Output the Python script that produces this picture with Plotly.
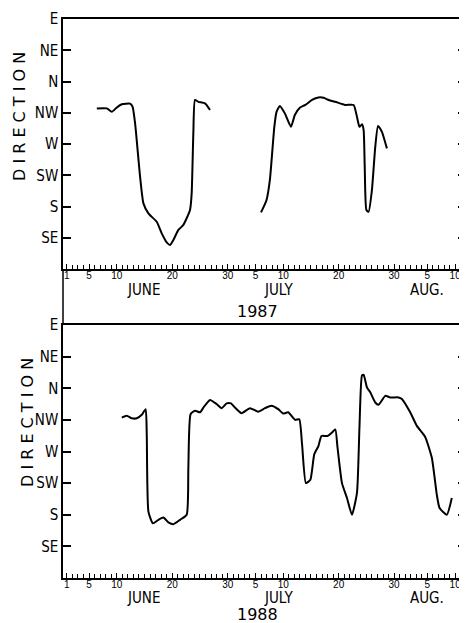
import plotly.graph_objects as go

# ---------------- data ----------------
# day index: June 1 = 1, July 1 = 31, Aug 1 = 62
# direction scale: SE=1, S=2, SW=3, W=4, NW=5, N=6, NE=7, E=8
dir_vals = [1, 2, 3, 4, 5, 6, 7, 8]
dir_labels = ["SE", "S", "SW", "W", "NW", "N", "NE", "E"]

day_ticks = [1, 5, 10, 20, 30, 35, 40, 50, 60, 66, 71]
day_labels = ["1", "5", "10", "20", "30", "5", "10", "20", "30", "5", "10"]
months = ["JUNE", "JULY", "AUG."]
month_days = [14.9, 39.1, 66.0]

d87a = [6.4, 8.2, 9.1, 10.0, 10.9, 12.4, 12.85, 13.3, 13.7, 14.2, 14.8, 15.7, 17.2,
        18.1, 19.0, 19.6, 20.2, 21.1, 22.0, 23.2, 23.5, 23.8, 24.1, 24.7, 25.9, 26.8]
v87a = [5.14, 5.14, 5.03, 5.17, 5.27, 5.29, 5.19, 4.66, 3.91, 2.95, 2.10, 1.78, 1.51,
        1.14, 0.85, 0.77, 0.93, 1.25, 1.41, 1.89, 2.42, 4.34, 5.41, 5.35, 5.30, 5.09]

d87b = [36.0, 37.0, 37.6, 38.1, 38.4, 38.8, 39.4, 40.3, 41.4, 42.1, 43.0, 44.0, 45.2,
        46.35, 47.3, 48.2, 49.4, 51.2, 52.7, 53.3, 53.75, 54.2, 54.5, 54.7, 55.0, 55.4,
        56.0, 56.6, 57.1, 57.8, 58.7]
v87b = [1.81, 2.21, 2.85, 3.91, 4.55, 5.03, 5.22, 4.98, 4.55, 4.93, 5.16, 5.25, 5.41,
        5.49, 5.48, 5.41, 5.35, 5.25, 5.25, 4.87, 4.55, 4.63, 4.45, 3.27, 1.89, 1.83,
        2.53, 3.91, 4.58, 4.39, 3.86]

d88 = [10.9, 11.8, 12.7, 13.6, 14.5, 15.2, 15.4, 15.7, 16.5, 17.5, 18.4, 19.3, 20.2,
       21.4, 22.6, 22.9, 23.3, 24.1, 25.0, 25.7, 26.8, 28.0, 28.9, 29.8, 30.6, 31.3,
       32.5, 34.0, 35.5, 36.7, 37.9, 39.1, 40.0, 40.9, 42.15, 42.9, 43.4, 44.1, 44.9,
       45.6, 46.35, 46.9, 48.0, 48.8, 49.4, 49.8, 50.6, 51.5, 52.4, 53.3, 53.75, 54.2,
       54.5, 55.1, 55.7, 56.6, 57.2, 58.4, 59.3, 60.8, 61.4, 62.9, 64.1, 65.6, 66.8,
       67.7, 68.2, 69.5, 70.4]
v88 = [5.07, 5.13, 5.05, 5.05, 5.16, 5.34, 4.54, 2.10, 1.73, 1.84, 1.91, 1.76, 1.70,
       1.84, 2.00, 3.48, 5.18, 5.29, 5.24, 5.41, 5.63, 5.50, 5.37, 5.52, 5.52, 5.39,
       5.21, 5.37, 5.26, 5.37, 5.45, 5.34, 5.20, 5.24, 5.00, 5.02, 4.23, 3.00, 3.11,
       3.91, 4.17, 4.49, 4.49, 4.60, 4.70, 4.12, 3.00, 2.53, 2.00, 2.69, 4.76, 6.40,
       6.43, 6.03, 5.87, 5.55, 5.48, 5.76, 5.71, 5.71, 5.66, 5.24, 4.81, 4.46, 3.80,
       2.63, 2.21, 2.00, 2.53]

years = ["1987", "1988"]

# ---------------- figure ----------------
OFF = 8  # page body margin offset
W, H = 467 - OFF, 623 - OFF
T = 19 - OFF
PLOT_BOTTOM = 578 - OFF
B = H - PLOT_BOTTOM
L = 63 - OFF
R = W - (464 - OFF)
ph = H - T - B
top_dom = [(578 - 269) / ph, 1.0]
bot_dom = [0.0, (578 - 325) / ph]

FONT = "DejaVu Sans Condensed, Liberation Sans Narrow, Liberation Sans, sans-serif"
NUMFONT = "Liberation Sans, Arial, sans-serif"
line_style = dict(color="black", width=2, shape="spline", smoothing=0.5)

fig = go.Figure()
fig.add_trace(go.Scatter(x=d87a, y=v87a, mode="lines", line=line_style, xaxis="x", yaxis="y"))
fig.add_trace(go.Scatter(x=d87b, y=v87b, mode="lines", line=line_style, xaxis="x", yaxis="y"))
fig.add_trace(go.Scatter(x=d88, y=v88, mode="lines", line=line_style, xaxis="x2", yaxis="y2"))

xr = [0.3, 72.6]
minor_days = list(range(1, 73))


def xaxis(anchor):
    return dict(
        domain=[0, 1], range=xr, anchor=anchor,
        showline=True, linecolor="black", linewidth=1.5, mirror=True,
        showgrid=False, zeroline=False,
        tickmode="array", tickvals=day_ticks, ticktext=day_labels,
        ticks="inside", ticklen=5, tickcolor="black", tickwidth=1,
        tickfont=dict(family=NUMFONT, size=10, color="black"),
        ticklabelstandoff=-4,
        minor=dict(tickmode="array", tickvals=minor_days, ticks="inside",
                   ticklen=4, tickcolor="black", tickwidth=1),
    )


def yaxis(dom, anchor):
    return dict(
        domain=dom, range=[0, 8], anchor=anchor,
        showline=True, linecolor="black", linewidth=1.5,
        showgrid=False, zeroline=False,
        tickmode="array", tickvals=dir_vals, ticktext=dir_labels,
        ticks="inside", ticklen=8, tickcolor="black", tickwidth=1.5,
        tickfont=dict(family=FONT, size=15, color="black"),
    )


def yright(dom, anchor, overlay):
    return dict(
        domain=dom, range=[0, 8], anchor=anchor, overlaying=overlay, side="right",
        showline=False, showgrid=False, zeroline=False,
        tickmode="array", tickvals=dir_vals[:-1], ticks="inside", ticklen=6,
        tickcolor="black", tickwidth=1.5, showticklabels=False,
    )


fig.update_layout(
    width=W, height=H,
    margin=dict(l=L, r=R, t=T, b=B),
    paper_bgcolor="white", plot_bgcolor="white",
    showlegend=False,
    xaxis=xaxis("y"), yaxis=yaxis(top_dom, "x"),
    xaxis2=xaxis("y2"), yaxis2=yaxis(bot_dom, "x2"),
    yaxis3=yright(top_dom, "x", "y"),
    yaxis4=yright(bot_dom, "x2", "y2"),
)
# invisible traces to activate the right-side tick axes
fig.add_trace(go.Scatter(x=[None], y=[None], xaxis="x", yaxis="y3", showlegend=False))
fig.add_trace(go.Scatter(x=[None], y=[None], xaxis="x2", yaxis="y4", showlegend=False))

# continuous left frame line between the panels
fig.add_shape(type="line", xref="paper", yref="paper", x0=0, x1=0,
              y0=bot_dom[1], y1=top_dom[0], line=dict(color="black", width=1.5))


def py(pix):
    # reference pixel y -> paper fraction
    return (578 - pix) / ph


def px(pix):
    # reference pixel x -> paper fraction
    return (pix - 63) / (W - L - R)


ann = []
for yy in (py(290), py(598)):
    for m, d in zip(months, month_days):
        ann.append(dict(x=d, y=yy, xref="x", yref="paper", text=m, showarrow=False,
                        xanchor="center", yanchor="middle",
                        font=dict(family=FONT, size=15, color="black")))
for txt, yy in zip(years, (py(311), py(614))):
    ann.append(dict(x=px(257), y=yy, xref="paper", yref="paper", text=txt,
                    xanchor="center", yanchor="middle", showarrow=False,
                    font=dict(family="DejaVu Sans, sans-serif", size=16, color="black")))
for xx, yy in ((19, py(117)), (27, py(423))):
    ann.append(dict(x=px(xx), y=yy, xref="paper", yref="paper",
                    xanchor="center", yanchor="middle",
                    text="D I R E C T I O N", textangle=-90, showarrow=False,
                    font=dict(family="DejaVu Sans, sans-serif", size=16, color="black")))
fig.update_layout(annotations=ann)

fig.write_html("out.html")
